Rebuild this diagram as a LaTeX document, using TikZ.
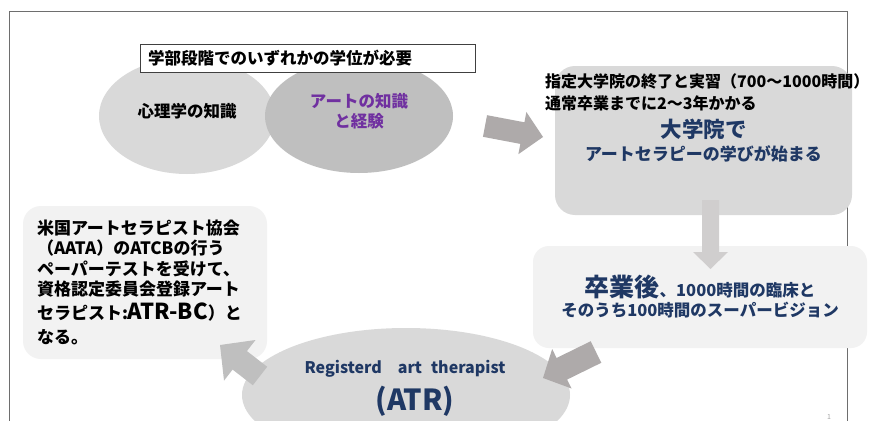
\documentclass[tikz,border=0pt]{standalone}
\usepackage{fontspec}
\setmainfont{Noto Sans CJK JP}
\usetikzlibrary{calc,shapes.geometric}
\definecolor{navy}{HTML}{1F3864}
\definecolor{purp}{HTML}{7030A0}
\definecolor{gA}{HTML}{D9D9D9}
\definecolor{gB}{HTML}{BFBFBF}
\definecolor{gC}{HTML}{F2F2F2}
\definecolor{arrA}{HTML}{AEAAAA}
\definecolor{arrB}{HTML}{D0CECE}
\definecolor{arrC}{HTML}{BFBFBF}
\definecolor{framec}{HTML}{6E6E6E}
\newcommand{\fsz}[2]{\fontsize{#1}{#2}\selectfont}
% block arrow: from, to, shaft half width, head half width, head length, colour
\newcommand{\blockarrow}[6]{%
  \coordinate (bahb) at ($(#2)!#5!(#1)$);
  \fill[#6] ($(#1)!#3!90:(#2)$) -- ($(bahb)!#3!90:(#2)$) -- ($(bahb)!#4!90:(#2)$) -- (#2)
    -- ($(bahb)!#4!-90:(#2)$) -- ($(bahb)!#3!-90:(#2)$) -- ($(#1)!#3!-90:(#2)$) -- cycle;}
\tikzset{
  txt/.style={inner sep=0pt, font=\bfseries\fsz{16.5}{20}},
  ell/.style={ellipse, inner sep=0pt},
  rbox/.style={inner sep=0pt, align=center},
}
\begin{document}
\begin{tikzpicture}[x=1pt,y=-1pt]
\useasboundingbox (0,0) rectangle (872,420);
\fill[white] (0,0) rectangle (872,420);
\draw[framec, line width=0.9pt] (9,421) -- (9,11) -- (847.5,11) -- (847.5,421);

% ellipses
\node[ell, fill=gA, minimum width=176pt, minimum height=116pt] (psy) at (187,116) {};
\node[ell, fill=gB, minimum width=188pt, minimum height=114pt] (art) at (359,116) {};
\node[txt, anchor=base] (psyt) at (187,117) {心理学の知識};
\node[txt, text=purp, align=center] (artt) at (359,111) {アートの知識\\と経験};

% title box
\node[draw=black!75, fill=white, line width=0.8pt, minimum width=335pt, minimum height=28pt,
      text width=319pt, inner xsep=8pt, inner ysep=0pt, align=left,
      font=\bfseries\fsz{16.5}{20}] (req) at (307.5,58) {学部段階でのいずれかの学位が必要};

% graduate school box
\node[rbox, rounded corners=20pt, fill=gA, minimum width=297pt, minimum height=149pt,
      text=navy, font=\bfseries\fsz{17}{23}] (grad) at (703.5,140.5)
      {{\fsz{21.5}{26}大学院で}\\アートセラピーの学びが始まる};
\node[txt, anchor=base west, font=\bfseries\fsz{16}{20}] (req1) at (545,88) {指定大学院の終了と実習（700～1000時間）};
\node[txt, anchor=base west, font=\bfseries\fsz{16}{20}] (req2) at (545,109) {通常卒業までに2～3年かかる};

% after graduation box
\node[rbox, rounded corners=16pt, fill=gC, minimum width=334pt, minimum height=102pt,
      text=navy, font=\bfseries\fsz{16.5}{20}] (post) at (700,297)
      {{\fsz{25}{30}卒業後}、1000時間の臨床と\\そのうち100時間のスーパービジョン};

% certification box
\node[rounded corners=18pt, fill=gC, minimum width=244pt, minimum height=153pt,
      text width=216pt, inner xsep=14pt, inner ysep=0pt, align=left,
      font=\bfseries\fsz{17}{20.5}] (cert) at (145,282.5)
      {米国アートセラピスト協会\\（AATA）のATCBの行う\\ペーパーテストを受けて、\\資格認定委員会登録アート\\[3.5pt]セラピスト:{\fsz{22}{26}ATR-BC}）と\\[3.5pt]なる。};

% ATR ellipse
\node[ell, fill=gA, minimum width=328pt, minimum height=134pt] (atr) at (406,395) {};
\node[txt, text=navy, anchor=base, font=\bfseries\fsz{16}{18}] (atr1) at (405,373) {Registerd\hspace{16pt}art\hspace{9pt}therapist};
\node[txt, text=navy, anchor=base, font=\bfseries\fsz{29}{32}] (atr2) at (415,410) {(ATR)};

% block arrows
\coordinate (a1s) at (485,126); \coordinate (a1e) at (543,137);
\blockarrow{a1s}{a1e}{11pt}{21.5pt}{21pt}{arrA}
\coordinate (a2s) at (710.5,200); \coordinate (a2e) at (710.5,269);
\blockarrow{a2s}{a2e}{8.5pt}{17.5pt}{17pt}{arrB}
\coordinate (a3s) at (596,352); \coordinate (a3e) at (543,378);
\blockarrow{a3s}{a3e}{12pt}{22pt}{21pt}{arrA}
\coordinate (a4s) at (260,376); \coordinate (a4e) at (220,345);
\blockarrow{a4s}{a4e}{11.7pt}{25.7pt}{25pt}{arrC}

% page number
\node[inner sep=0pt, text=gray!70, anchor=base, font=\fsz{7}{8}] (pg) at (829,419) {1};
\end{tikzpicture}
\end{document}
